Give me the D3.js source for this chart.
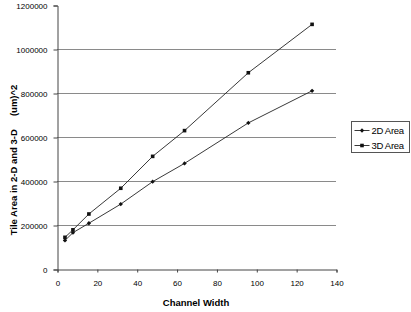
<!DOCTYPE html>
<html lang="en">
<head>
  <meta charset="UTF-8">
  <title>Tile Area vs Channel Width</title>
  <style>
    body { margin: 0; background: #fff; }
    svg { display: block; font-family: "Liberation Sans", Arial, sans-serif; }
    .grid line { stroke: #8a8a8a; stroke-width: 1; }
    .tick text { font-size: 8px; fill: #000; }
    .series { fill: none; stroke: #222; stroke-width: 0.9; }
  </style>
</head>
<body>
  <svg width="411" height="312"></svg>
  <script src="https://d3js.org/d3.v7.min.js"></script>
  <script>
    const channelWidth = [4, 8, 16, 32, 48, 64, 96, 128];
    const area2D = [130000, 165000, 208000, 295000, 397000, 480000, 664000, 810000];
    const area3D = [144000, 178000, 250000, 367000, 512000, 629000, 892000, 1112000];
    const yTicks = [0, 200000, 400000, 600000, 800000, 1000000, 1200000];
    const xTicks = [0, 20, 40, 60, 80, 100, 120, 140];
    const seriesNames = ["2D Area", "3D Area"];

    const svg = d3.select("svg");
    const plotL = 57, plotR = 336, plotT = 5, plotB = 269;

    const x = d3.scaleLinear().domain([0, 140]).range([plotL, plotR]);
    const y = d3.scaleLinear().domain([0, 1200000]).range([plotB, plotT]);

    // gridlines
    svg.append("g").attr("class", "grid")
      .selectAll("line")
      .data(yTicks.filter(d => d > 0 && d < 1200000))
      .join("line")
      .attr("x1", plotL).attr("x2", plotR)
      .attr("y1", d => Math.round(y(d)) + 0.5)
      .attr("y2", d => Math.round(y(d)) + 0.5);

    // axes
    const yAxis = svg.append("g")
      .attr("transform", `translate(${plotL + 0.5},0.5)`)
      .call(d3.axisLeft(y).tickValues(yTicks).tickSize(4).tickPadding(6).tickFormat(d3.format("d")));
    const xAxis = svg.append("g")
      .attr("transform", `translate(0.5,${plotB + 0.5})`)
      .call(d3.axisBottom(x).tickValues(xTicks).tickSize(3).tickPadding(8));
    [yAxis, xAxis].forEach(a => {
      a.select(".domain").attr("stroke", "#444");
      a.selectAll(".tick line").attr("stroke", "#444");
    });

    // axis titles
    svg.append("text")
      .attr("x", 196).attr("y", 306)
      .attr("text-anchor", "middle")
      .attr("font-size", "9.5px").attr("font-weight", "bold")
      .text("Channel Width");
    svg.append("text")
      .attr("transform", "translate(17,160) rotate(-90)")
      .attr("text-anchor", "middle")
      .attr("font-size", "9.5px").attr("font-weight", "bold")
      .attr("xml:space", "preserve")
      .text("Tile Area in 2-D and 3-D     (um)^2");

    const line = d3.line().x((d, i) => x(channelWidth[i])).y(d => y(d));
    const diamond = d3.symbol(d3.symbolDiamond2 || d3.symbolDiamond, 12);
    const data = [area2D, area3D];

    data.forEach((vals, k) => {
      svg.append("path").datum(vals).attr("class", "series").attr("d", line);
      const g = svg.append("g");
      if (k === 0) {
        g.selectAll("path").data(vals).join("path")
          .attr("d", diamond)
          .attr("transform", (d, i) => `translate(${x(channelWidth[i])},${y(d)})`)
          .attr("fill", "#111");
      } else {
        g.selectAll("rect").data(vals).join("rect")
          .attr("x", (d, i) => x(channelWidth[i]) - 1.8)
          .attr("y", d => y(d) - 1.8)
          .attr("width", 3.6).attr("height", 3.6)
          .attr("fill", "#111");
      }
    });

    // legend
    const legend = svg.append("g").attr("transform", "translate(351.5,121.5)");
    legend.append("rect").attr("width", 58).attr("height", 31)
      .attr("fill", "#fff").attr("stroke", "#555");
    seriesNames.forEach((name, k) => {
      const ly = 9 + k * 15;
      legend.append("line").attr("x1", 3).attr("x2", 18).attr("y1", ly).attr("y2", ly)
        .attr("stroke", "#222").attr("stroke-width", 0.9);
      if (k === 0) {
        legend.append("path").attr("d", diamond)
          .attr("transform", `translate(10.5,${ly})`).attr("fill", "#111");
      } else {
        legend.append("rect").attr("x", 8.7).attr("y", ly - 1.8)
          .attr("width", 3.6).attr("height", 3.6).attr("fill", "#111");
      }
      legend.append("text").attr("x", 20).attr("y", ly + 3.5)
        .attr("font-size", "9.5px").attr("fill", "#000")
        .attr("letter-spacing", "-0.3px")
        .text(name);
    });
  </script>
</body>
</html>
